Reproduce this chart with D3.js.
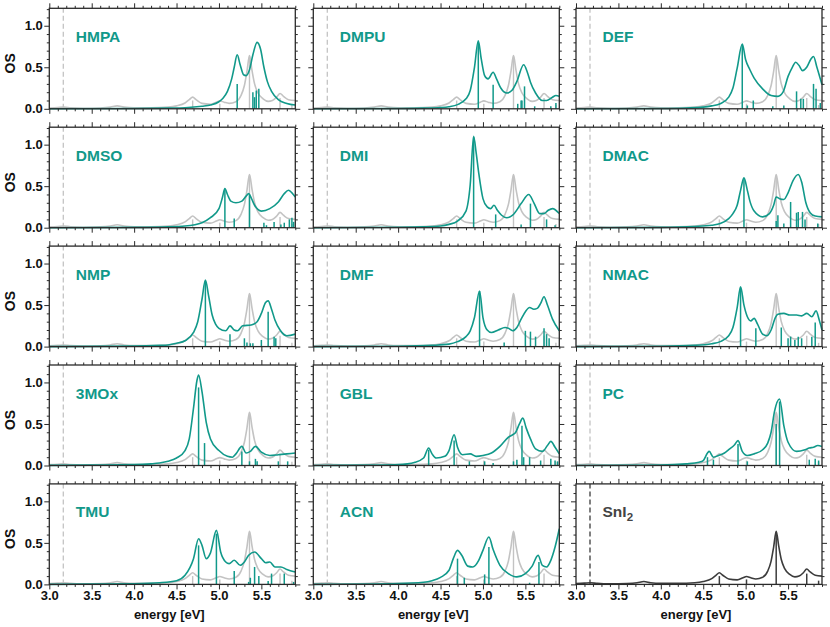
<!DOCTYPE html>
<html><head><meta charset="utf-8">
<script src="https://cdn.jsdelivr.net/npm/d3@7"></script>
<style>
body{margin:0;background:#fff;}
text{font-family:"Liberation Sans",Arial,Helvetica,sans-serif;font-weight:bold;}
</style></head>
<body><svg id="c" width="830" height="627"></svg>
<script>
// ---------------- data ----------------
const solvents = ["HMPA","DMPU","DEF","DMSO","DMI","DMAC","NMP","DMF","NMAC","3MOx","GBL","PC","TMU","ACN","SnI2"];
const xTicks = [3.0,3.5,4.0,4.5,5.0,5.5];
const yTicks = [0.0,0.5,1.0];
const gapLine = 3.165;

const sni2Curve = [[3.0,0.01],[3.1,0.015],[3.17,0.02],[3.25,0.012],[3.4,0.006],[3.6,0.01],[3.72,0.02],[3.8,0.035],[3.88,0.02],[4.0,0.012],[4.2,0.012],[4.4,0.02],[4.5,0.035],[4.6,0.07],[4.65,0.11],[4.69,0.14],[4.73,0.11],[4.8,0.065],[4.9,0.055],[4.97,0.08],[5.01,0.095],[5.06,0.08],[5.12,0.065],[5.2,0.085],[5.26,0.16],[5.3,0.28],[5.33,0.45],[5.36,0.64],[5.39,0.46],[5.42,0.3],[5.46,0.19],[5.52,0.12],[5.58,0.09],[5.63,0.1],[5.68,0.14],[5.72,0.185],[5.76,0.15],[5.82,0.11],[5.9,0.1]];
const sni2Sticks = [[4.69,0.1],[5.01,0.06],[5.36,0.63],[5.72,0.13],[5.86,0.045]];

const hmpaCurve = [[3.0,0],[4.0,0.003],[4.4,0.008],[4.6,0.013],[4.8,0.03],[4.9,0.045],[5.0,0.085],[5.05,0.13],[5.1,0.21],[5.15,0.36],[5.18,0.5],[5.215,0.65],[5.25,0.53],[5.29,0.41],[5.32,0.4],[5.36,0.47],[5.4,0.65],[5.45,0.8],[5.49,0.72],[5.53,0.5],[5.57,0.33],[5.62,0.21],[5.7,0.11],[5.8,0.065],[5.9,0.045]];
const hmpaSticks = [[5.215,0.3],[5.4,0.2],[5.42,0.14],[5.44,0.22],[5.47,0.24]];

const dmpuCurve = [[3.0,0],[4.0,0.004],[4.3,0.008],[4.5,0.015],[4.6,0.025],[4.7,0.05],[4.8,0.12],[4.85,0.22],[4.9,0.5],[4.945,0.82],[4.98,0.6],[5.02,0.4],[5.06,0.36],[5.12,0.44],[5.16,0.36],[5.21,0.25],[5.28,0.19],[5.34,0.22],[5.4,0.33],[5.48,0.53],[5.52,0.45],[5.56,0.32],[5.62,0.19],[5.7,0.1],[5.75,0.1],[5.82,0.14],[5.86,0.16],[5.9,0.15]];
const dmpuSticks = [[4.945,0.8],[5.12,0.29],[5.41,0.06],[5.45,0.1],[5.46,0.1],[5.49,0.27],[5.61,0.03],[5.8,0.03],[5.86,0.07]];

const defCurve = [[3.0,0],[4.0,0.004],[4.3,0.01],[4.5,0.02],[4.6,0.035],[4.7,0.06],[4.8,0.14],[4.85,0.25],[4.9,0.49],[4.96,0.78],[5.0,0.59],[5.05,0.47],[5.1,0.37],[5.2,0.24],[5.3,0.16],[5.38,0.15],[5.44,0.2],[5.5,0.39],[5.55,0.5],[5.59,0.56],[5.63,0.52],[5.67,0.46],[5.72,0.5],[5.77,0.6],[5.8,0.63],[5.84,0.5],[5.9,0.29]];
const defSticks = [[4.96,0.77],[5.02,0.04],[5.09,0.1],[5.32,0.03],[5.45,0.04],[5.6,0.21],[5.65,0.12],[5.68,0.12],[5.8,0.3],[5.83,0.24],[5.88,0.07]];

const dmsoCurve = [[3.0,0],[4.0,0.004],[4.4,0.01],[4.6,0.02],[4.8,0.06],[4.9,0.12],[5.0,0.23],[5.04,0.36],[5.07,0.47],[5.1,0.4],[5.14,0.32],[5.2,0.3],[5.27,0.32],[5.32,0.38],[5.35,0.41],[5.38,0.36],[5.42,0.27],[5.5,0.2],[5.6,0.23],[5.7,0.31],[5.77,0.41],[5.82,0.45],[5.86,0.42],[5.9,0.37]];
const dmsoSticks = [[5.07,0.46],[5.18,0.11],[5.36,0.4],[5.53,0.06],[5.56,0.03],[5.65,0.07],[5.73,0.04],[5.77,0.06],[5.83,0.1],[5.86,0.12],[5.88,0.07]];

const dmiCurve = [[3.0,0],[4.0,0.005],[4.3,0.01],[4.5,0.02],[4.6,0.04],[4.7,0.08],[4.8,0.2],[4.85,0.52],[4.89,1.1],[4.92,0.9],[4.95,0.66],[5.0,0.35],[5.05,0.25],[5.09,0.23],[5.13,0.27],[5.17,0.21],[5.22,0.15],[5.28,0.12],[5.35,0.15],[5.45,0.29],[5.54,0.4],[5.6,0.3],[5.67,0.17],[5.72,0.17],[5.77,0.21],[5.82,0.23],[5.9,0.17]];
const dmiSticks = [[4.89,1.09],[5.15,0.16],[5.45,0.04],[5.56,0.29],[5.75,0.1],[5.85,0.03]];

const dmacCurve = [[3.0,0],[4.0,0.004],[4.4,0.015],[4.6,0.03],[4.7,0.05],[4.8,0.11],[4.85,0.17],[4.9,0.27],[4.94,0.45],[4.98,0.6],[5.02,0.45],[5.05,0.32],[5.1,0.2],[5.2,0.13],[5.28,0.17],[5.33,0.27],[5.36,0.37],[5.4,0.35],[5.45,0.34],[5.5,0.42],[5.56,0.57],[5.62,0.64],[5.66,0.55],[5.71,0.3],[5.76,0.18],[5.82,0.14],[5.9,0.13]];
const dmacSticks = [[4.98,0.59],[5.36,0.08],[5.38,0.15],[5.45,0.05],[5.53,0.31],[5.6,0.18],[5.62,0.19],[5.67,0.19],[5.7,0.1],[5.85,0.05]];

const nmpCurve = [[3.0,0],[4.0,0.006],[4.3,0.015],[4.4,0.02],[4.5,0.04],[4.6,0.07],[4.7,0.17],[4.75,0.3],[4.8,0.57],[4.84,0.8],[4.88,0.6],[4.92,0.38],[4.96,0.27],[5.0,0.22],[5.08,0.19],[5.13,0.25],[5.18,0.2],[5.22,0.19],[5.28,0.25],[5.38,0.26],[5.45,0.3],[5.5,0.4],[5.55,0.53],[5.58,0.55],[5.62,0.45],[5.66,0.32],[5.72,0.2],[5.8,0.13],[5.9,0.15]];
const nmpSticks = [[4.84,0.79],[5.13,0.15],[5.3,0.1],[5.33,0.05],[5.37,0.04],[5.4,0.04],[5.5,0.08],[5.58,0.42],[5.65,0.12],[5.67,0.1]];

const dmfCurve = [[3.0,0],[4.0,0.004],[4.4,0.015],[4.6,0.03],[4.7,0.06],[4.8,0.12],[4.85,0.19],[4.9,0.35],[4.96,0.67],[5.0,0.35],[5.05,0.2],[5.1,0.17],[5.18,0.2],[5.26,0.23],[5.3,0.22],[5.35,0.19],[5.4,0.23],[5.45,0.33],[5.5,0.42],[5.55,0.47],[5.6,0.45],[5.64,0.46],[5.68,0.52],[5.72,0.6],[5.76,0.5],[5.82,0.33],[5.9,0.19]];
const dmfSticks = [[4.96,0.67],[5.25,0.05],[5.5,0.19],[5.56,0.18],[5.62,0.12],[5.72,0.22],[5.75,0.15],[5.78,0.1]];

const nmacCurve = [[3.0,0],[4.0,0.004],[4.4,0.015],[4.6,0.035],[4.7,0.06],[4.8,0.13],[4.85,0.23],[4.9,0.47],[4.94,0.72],[4.98,0.5],[5.02,0.36],[5.06,0.31],[5.1,0.34],[5.14,0.27],[5.2,0.15],[5.25,0.13],[5.3,0.2],[5.35,0.35],[5.38,0.39],[5.45,0.4],[5.52,0.38],[5.6,0.38],[5.66,0.37],[5.72,0.4],[5.78,0.36],[5.83,0.43],[5.87,0.31],[5.9,0.2]];
const nmacSticks = [[4.94,0.71],[5.12,0.22],[5.42,0.23],[5.5,0.1],[5.53,0.12],[5.58,0.08],[5.62,0.12],[5.66,0.1],[5.78,0.12],[5.82,0.29]];

const mox3Curve = [[3.0,0.002],[3.5,0.005],[4.0,0.01],[4.2,0.02],[4.3,0.03],[4.4,0.05],[4.5,0.09],[4.6,0.18],[4.65,0.32],[4.7,0.69],[4.74,1.02],[4.76,1.09],[4.8,0.89],[4.85,0.52],[4.9,0.32],[5.0,0.18],[5.1,0.11],[5.16,0.1],[5.2,0.14],[5.27,0.23],[5.32,0.15],[5.37,0.17],[5.43,0.23],[5.5,0.16],[5.6,0.12],[5.7,0.13],[5.8,0.14],[5.9,0.15]];
const mox3Sticks = [[4.76,0.94],[4.83,0.27],[5.27,0.17],[5.36,0.05],[5.43,0.08],[5.45,0.05],[5.7,0.05],[5.81,0.05]];

const gblCurve = [[3.0,0],[3.8,0.005],[4.0,0.01],[4.2,0.04],[4.3,0.09],[4.36,0.21],[4.4,0.14],[4.45,0.09],[4.55,0.11],[4.6,0.18],[4.66,0.37],[4.7,0.22],[4.76,0.13],[4.85,0.14],[4.92,0.11],[5.0,0.12],[5.1,0.15],[5.2,0.23],[5.3,0.34],[5.35,0.37],[5.38,0.39],[5.43,0.5],[5.47,0.57],[5.51,0.45],[5.56,0.32],[5.62,0.2],[5.7,0.17],[5.76,0.24],[5.8,0.29],[5.85,0.22],[5.9,0.14]];
const gblSticks = [[4.36,0.19],[4.66,0.3],[4.84,0.05],[5.02,0.05],[5.12,0.03],[5.36,0.05],[5.4,0.07],[5.46,0.48],[5.48,0.1],[5.55,0.1],[5.68,0.06],[5.8,0.08],[5.85,0.06],[5.88,0.05]];

const pcCurve = [[3.0,0],[4.0,0.005],[4.3,0.02],[4.45,0.04],[4.5,0.06],[4.55,0.15],[4.57,0.17],[4.62,0.1],[4.68,0.12],[4.75,0.15],[4.8,0.19],[4.87,0.25],[4.91,0.3],[4.96,0.17],[5.02,0.12],[5.1,0.14],[5.2,0.19],[5.26,0.27],[5.3,0.4],[5.34,0.65],[5.4,0.8],[5.45,0.48],[5.5,0.28],[5.6,0.17],[5.7,0.19],[5.75,0.21],[5.8,0.22],[5.85,0.24],[5.9,0.23]];
const pcSticks = [[4.55,0.1],[4.62,0.07],[4.91,0.26],[5.02,0.05],[5.36,0.5],[5.4,0.77],[5.75,0.07],[5.82,0.08],[5.86,0.06]];

const tmuCurve = [[3.0,0],[4.0,0.008],[4.3,0.02],[4.5,0.045],[4.6,0.11],[4.7,0.31],[4.76,0.55],[4.8,0.47],[4.85,0.31],[4.9,0.38],[4.97,0.65],[5.02,0.39],[5.08,0.27],[5.12,0.25],[5.18,0.29],[5.25,0.23],[5.3,0.27],[5.35,0.35],[5.42,0.39],[5.5,0.31],[5.55,0.26],[5.6,0.27],[5.66,0.21],[5.73,0.21],[5.8,0.18],[5.9,0.15]];
const tmuSticks = [[4.76,0.47],[4.97,0.61],[5.18,0.16],[5.35,0.03],[5.37,0.08],[5.42,0.21],[5.47,0.1],[5.58,0.04],[5.62,0.13],[5.77,0.13],[5.88,0.03]];

const acnCurve = [[3.0,0],[4.0,0.01],[4.3,0.025],[4.4,0.045],[4.5,0.085],[4.6,0.17],[4.65,0.31],[4.7,0.41],[4.75,0.35],[4.82,0.22],[4.88,0.21],[4.95,0.29],[5.0,0.41],[5.07,0.57],[5.12,0.42],[5.2,0.23],[5.3,0.13],[5.4,0.09],[5.5,0.13],[5.58,0.22],[5.65,0.35],[5.7,0.23],[5.75,0.21],[5.8,0.29],[5.85,0.45],[5.9,0.67]];
const acnSticks = [[4.7,0.31],[4.78,0.08],[5.02,0.12],[5.07,0.45],[5.55,0.02],[5.66,0.27]];

const curves = [hmpaCurve,dmpuCurve,defCurve,dmsoCurve,dmiCurve,dmacCurve,nmpCurve,dmfCurve,nmacCurve,mox3Curve,gblCurve,pcCurve,tmuCurve,acnCurve,sni2Curve];
const sticks = [hmpaSticks,dmpuSticks,defSticks,dmsoSticks,dmiSticks,dmacSticks,nmpSticks,dmfSticks,nmacSticks,mox3Sticks,gblSticks,pcSticks,tmuSticks,acnSticks,sni2Sticks];

// ---------------- layout ----------------
const TEAL = "#11998a", GREY = "#c3c3c3", DARK = "#3c3c3c", FRAME = "#2a2a2a";
const colX = [49.3, 313.3, 576];
const top0 = 8.3, rowPitch = 118.9;
const W = 246, H = 100.5;

const svg = d3.select("#c");
const x = d3.scaleLinear().domain([3, 5.9]).range([0, W]);
const y = d3.scaleLinear().domain([0, 1.21]).range([H, 0]);
const line = d3.line().x(d => x(d[0])).y(d => y(d[1])).curve(d3.curveMonotoneX);
const minorX = d3.range(30, 60).map(v => v / 10).filter(v => xTicks.indexOf(v) < 0);
const minorY = d3.range(0, 13).map(v => v / 10).filter(v => yTicks.indexOf(v) < 0);

solvents.forEach((name, i) => {
  const r = Math.floor(i / 3), c = i % 3;
  const isRef = name === "SnI2";
  const g = svg.append("g").attr("transform", `translate(${colX[c]},${top0 + r * rowPitch})`);
  const plot = g.append("g");

  // reference (SnI2) spectrum in grey
  if (!isRef) {
    plot.selectAll(".gs").data(sni2Sticks).join("line")
      .attr("x1", d => x(d[0])).attr("x2", d => x(d[0]))
      .attr("y1", y(0)).attr("y2", d => y(d[1]))
      .attr("stroke", GREY).attr("stroke-width", 1.4);
    plot.append("path").datum(sni2Curve).attr("d", line)
      .attr("fill", "none").attr("stroke", GREY).attr("stroke-width", 1.6);
  }
  // dashed line
  plot.append("line").attr("x1", x(gapLine)).attr("x2", x(gapLine))
    .attr("y1", y(0)).attr("y2", 0)
    .attr("stroke", isRef ? DARK : GREY).attr("stroke-width", 1.3)
    .attr("stroke-dasharray", "5,3");

  const col = isRef ? DARK : TEAL;
  plot.selectAll(".st").data(sticks[i]).join("line")
    .attr("x1", d => x(d[0])).attr("x2", d => x(d[0]))
    .attr("y1", y(0)).attr("y2", d => y(d[1]))
    .attr("stroke", col).attr("stroke-width", 1.5);
  plot.append("path").datum(curves[i]).attr("d", line)
    .attr("fill", "none").attr("stroke", col).attr("stroke-width", 1.6);

  // axes
  const mk = (axis, tr, vals, size, labels) => {
    const a = g.append("g").attr("transform", tr)
      .call(axis.tickValues(vals).tickSize(size).tickSizeOuter(0).tickPadding(labels ? 1.5 : 0)
        .tickFormat(labels ? d3.format(".1f") : () => ""));
    a.select(".domain").remove();
    a.selectAll("line").attr("stroke", FRAME).attr("stroke-width", 1);
    a.selectAll("text").attr("fill", "#111").style("font-size", "13px");
    return a;
  };
  mk(d3.axisBottom(x), `translate(0,${H})`, xTicks, 5, r === 4);
  mk(d3.axisBottom(x), `translate(0,${H})`, minorX, 2.5, false);
  mk(d3.axisTop(x), `translate(0,0)`, xTicks, 5, false);
  mk(d3.axisTop(x), `translate(0,0)`, minorX, 2.5, false);
  mk(d3.axisLeft(y), `translate(0,0)`, yTicks, 5, c === 0);
  mk(d3.axisLeft(y), `translate(0,0)`, minorY, 2.5, false);
  mk(d3.axisRight(y), `translate(${W},0)`, yTicks, 5, false);
  mk(d3.axisRight(y), `translate(${W},0)`, minorY, 2.5, false);

  g.append("rect").attr("width", W).attr("height", H)
    .attr("fill", "none").attr("stroke", FRAME).attr("stroke-width", 1.3);

  // panel label
  const t = g.append("text").attr("x", 26.5).attr("y", 33.5)
    .attr("fill", isRef ? "#444" : TEAL).style("font-size", "15.5px");
  if (isRef) {
    t.text("SnI");
    t.append("tspan").attr("dy", 4).style("font-size", "11.5px").text("2");
  } else t.text(name);

  if (c === 0) {
    g.append("text").attr("transform", `translate(-34.5,${55}) rotate(-90)`)
      .attr("text-anchor", "middle").style("font-size", "14px").attr("fill", "#111").text("OS");
  }
  if (r === 4) {
    g.append("text").attr("x", W / 2 - 3).attr("y", H + 35).attr("text-anchor", "middle")
      .style("font-size", "13px").attr("fill", "#111").text("energy [eV]");
  }
});
</script></body></html>
